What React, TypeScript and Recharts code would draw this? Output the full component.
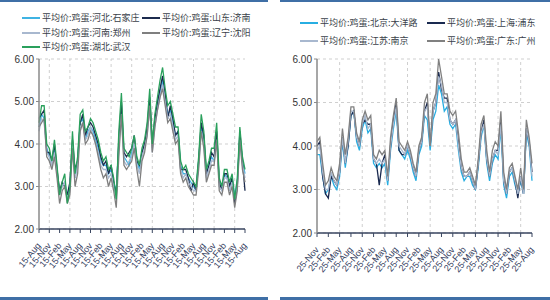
import React from 'react';
import { LineChart, Line, XAxis, YAxis, CartesianGrid, ReferenceLine } from 'recharts';

// x labels, one every 4 points
const LEFT_LABELS = [
  '15-Aug', '15-Nov', '15-Feb', '15-May', '15-Aug', '15-Nov', '15-Feb', '15-May',
  '15-Aug', '15-Nov', '15-Feb', '15-May', '15-Aug', '15-Nov', '15-Feb', '15-May',
  '15-Aug', '15-Nov', '15-Feb', '15-May', '15-Aug',
];
const RIGHT_LABELS = [
  '25-Nov', '25-Feb', '25-May', '25-Aug', '25-Nov', '25-Feb', '25-May', '25-Aug',
  '25-Nov', '25-Feb', '25-May', '25-Aug', '25-Nov', '25-Feb', '25-May', '25-Aug',
  '25-Nov', '25-Feb', '25-May', '25-Aug',
];
const Y_TICKS = [2, 3, 4, 5, 6];

// left panel
const SJZ = [
  4.4, 4.7, 4.6, 3.9, 3.7, 3.5, 3.9, 3.3, 2.9, 3.0,
  3.1, 2.8, 3.0, 4.0, 3.2, 3.6, 4.5, 4.6, 4.1, 4.3,
  4.4, 4.3, 4.1, 3.9, 3.6, 3.5, 3.5, 3.3, 3.4, 3.1,
  2.9, 4.0, 4.8, 3.7, 3.6, 3.5, 3.8, 4.0, 3.6, 3.4,
  3.8, 4.0, 4.3, 5.0, 3.9, 4.5, 4.9, 5.2, 5.5, 5.1,
  4.7, 4.8, 4.5, 4.2, 4.3, 3.5, 3.3, 3.3, 3.2, 3.1,
  3.0, 2.9, 3.6, 4.4, 4.1, 3.3, 3.5, 3.7, 3.6, 4.2,
  3.1, 2.9, 3.3, 3.2, 3.0, 3.2, 2.8, 3.1, 4.2, 3.6, 3.3,
];
const JN = [
  4.6, 4.7, 4.8, 3.8, 3.8, 3.6, 4.0, 3.4, 2.9, 3.1,
  3.0, 2.8, 3.1, 4.1, 3.4, 3.6, 4.5, 4.7, 4.2, 4.4,
  4.5, 4.4, 4.2, 4.0, 3.7, 3.5, 3.6, 3.3, 3.5, 3.1,
  2.8, 4.1, 5.0, 3.8, 3.7, 3.8, 3.9, 4.2, 3.6, 3.5,
  3.8, 4.0, 4.4, 5.1, 4.0, 4.6, 5.0, 5.3, 5.6, 5.2,
  4.6, 4.9, 4.6, 4.2, 4.3, 3.4, 3.4, 3.4, 3.2, 2.9,
  3.1, 2.9, 3.6, 4.5, 4.2, 3.3, 3.5, 3.8, 3.7, 4.3,
  3.1, 2.9, 3.3, 3.3, 3.0, 3.2, 2.6, 3.0, 4.3, 3.6, 2.9,
];
const ZZ = [
  4.3, 4.6, 4.5, 3.8, 3.7, 3.5, 3.8, 3.3, 2.8, 3.0,
  3.1, 2.7, 2.9, 4.0, 3.2, 3.5, 4.4, 4.5, 4.1, 4.2,
  4.4, 4.2, 4.0, 3.8, 3.5, 3.4, 3.4, 3.2, 3.3, 3.0,
  2.7, 3.9, 4.7, 3.6, 3.5, 3.6, 3.7, 4.0, 3.5, 3.3,
  3.7, 3.9, 4.2, 4.9, 3.8, 4.4, 4.8, 5.1, 5.4, 5.0,
  4.6, 4.7, 4.4, 4.1, 4.2, 3.4, 3.2, 3.3, 3.1, 3.0,
  2.9, 2.9, 3.5, 4.3, 4.0, 3.2, 3.4, 3.6, 3.6, 4.1,
  3.0, 2.9, 3.2, 3.2, 2.9, 3.1, 2.7, 3.0, 4.1, 3.5, 3.2,
];
const SY = [
  4.4, 4.5, 4.6, 3.7, 3.6, 3.4, 3.7, 3.2, 2.6, 2.9,
  3.0, 2.6, 2.8, 3.9, 3.0, 3.3, 4.3, 4.5, 4.0, 4.1,
  4.3, 4.2, 4.0, 3.7, 3.4, 3.2, 3.3, 3.0, 3.2, 2.9,
  2.5, 3.7, 4.7, 3.5, 3.4, 3.5, 3.6, 3.9, 3.4, 3.0,
  3.6, 3.8, 4.2, 4.9, 3.8, 4.4, 4.8, 5.1, 5.3, 4.9,
  4.5, 4.6, 4.3, 4.0, 4.1, 3.3, 3.1, 3.2, 3.0, 2.9,
  2.8, 2.8, 3.4, 4.3, 3.9, 3.1, 3.3, 3.5, 3.5, 4.1,
  2.9, 2.8, 3.1, 3.1, 2.8, 3.0, 2.5, 2.9, 4.1, 3.4, 3.1,
];
const WH = [
  4.5, 4.9, 4.9, 4.0, 3.9, 3.6, 4.1, 3.5, 2.8, 3.1,
  3.3, 2.6, 3.0, 4.3, 3.3, 3.7, 4.7, 4.8, 4.3, 4.4,
  4.6, 4.5, 4.3, 4.1, 3.8, 3.6, 3.7, 3.4, 3.5, 3.2,
  2.7, 4.3, 5.2, 3.9, 3.8, 3.7, 3.9, 4.2, 3.7, 3.5,
  3.9, 4.1, 4.5, 5.3, 4.0, 4.7, 5.1, 5.5, 5.8, 5.3,
  4.9, 5.0, 4.7, 4.4, 4.4, 3.6, 3.4, 3.5, 3.3, 3.2,
  3.1, 3.0, 3.7, 4.7, 4.3, 3.4, 3.6, 3.9, 3.9, 4.5,
  3.2, 3.0, 3.4, 3.4, 3.1, 3.3, 2.7, 3.2, 4.4, 3.7, 3.4,
];

// right panel
const DYL = [
  3.8, 3.8, 3.3, 2.9, 3.0, 3.3, 3.1, 3.0, 3.3, 4.1,
  3.5, 4.0, 4.7, 4.8, 4.1, 3.9, 4.4, 4.6, 4.3, 4.4,
  3.6, 3.5, 3.6, 3.5, 3.6, 3.1, 3.9, 4.4, 4.8, 3.9,
  3.8, 3.7, 3.9, 3.7, 3.4, 3.2, 3.8, 4.0, 4.7, 4.6,
  3.9, 4.6, 4.8, 5.4, 5.2, 4.8, 4.9, 4.5, 4.4, 4.5,
  3.9, 3.4, 3.2, 3.3, 3.3, 3.1, 3.0, 3.5, 4.2, 4.5,
  3.6, 3.2, 3.6, 3.8, 3.7, 4.4, 3.1, 2.8, 3.3, 3.4,
  3.1, 2.9, 3.2, 2.9, 4.3, 4.0, 3.2,
];
const PD = [
  4.0, 4.1, 3.3, 2.9, 2.8, 3.3, 3.2, 3.1, 3.4, 4.2,
  3.6, 4.0, 4.7, 4.8, 4.2, 4.0, 4.5, 4.6, 4.5, 4.5,
  3.7, 3.6, 3.1, 3.6, 3.8, 3.2, 4.0, 4.6, 5.0, 3.9,
  3.8, 3.8, 4.0, 3.8, 3.5, 3.3, 3.9, 4.1, 4.8, 5.0,
  4.0, 4.8, 5.0, 5.7, 5.3, 5.1, 5.1, 4.6, 4.5, 4.6,
  4.1, 3.5, 3.3, 3.3, 3.4, 3.2, 3.0, 3.6, 4.3, 4.6,
  3.7, 3.3, 3.7, 3.9, 3.9, 4.6, 3.2, 2.9, 3.4, 3.5,
  3.2, 2.8, 3.3, 2.9, 4.4, 4.1, 3.4,
];
const NJ = [
  3.9, 4.0, 3.4, 3.0, 3.0, 3.4, 3.2, 3.1, 3.4, 4.2,
  3.6, 4.1, 4.8, 4.8, 4.2, 4.0, 4.5, 4.7, 4.4, 4.5,
  3.7, 3.6, 3.7, 3.6, 3.7, 3.2, 4.0, 4.5, 4.9, 4.0,
  3.9, 3.8, 4.0, 3.8, 3.5, 3.3, 3.9, 4.1, 4.8, 4.9,
  4.0, 4.8, 5.0, 5.6, 5.4, 5.0, 5.0, 4.6, 4.5, 4.6,
  4.0, 3.5, 3.3, 3.3, 3.4, 3.2, 3.0, 3.6, 4.3, 4.5,
  3.7, 3.3, 3.7, 3.9, 3.8, 4.5, 3.2, 2.9, 3.4, 3.5,
  3.2, 2.9, 3.3, 2.9, 4.4, 4.1, 3.3,
];
const GZ = [
  4.1, 4.2, 3.6, 3.1, 3.2, 3.5, 3.3, 3.2, 3.6, 4.4,
  3.8, 4.2, 4.9, 4.9, 4.3, 4.1, 4.6, 4.8, 4.6, 4.7,
  3.8, 3.7, 3.9, 3.8, 3.9, 3.3, 4.2, 4.7, 5.1, 4.1,
  4.0, 3.9, 4.1, 3.9, 3.6, 3.4, 4.0, 4.2, 5.0, 5.2,
  4.0, 5.0, 5.2, 6.0, 5.6, 5.2, 5.2, 4.8, 4.7, 4.8,
  4.3, 3.7, 3.4, 3.4, 3.5, 3.3, 3.1, 3.7, 4.5, 4.7,
  3.9, 3.4, 3.9, 4.1, 4.0, 4.8, 3.4, 3.0, 3.5, 3.6,
  3.3, 3.0, 3.5, 3.0, 4.6, 4.2, 3.6,
];

const LEFT_SERIES = [
  { key: 'sjz', name: '平均价:鸡蛋:河北:石家庄', color: '#3fb3e3', values: SJZ },
  { key: 'jn', name: '平均价:鸡蛋:山东:济南', color: '#1c2b4e', values: JN },
  { key: 'zz', name: '平均价:鸡蛋:河南:郑州', color: '#a8b8cf', values: ZZ },
  { key: 'sy', name: '平均价:鸡蛋:辽宁:沈阳', color: '#7f7f7f', values: SY },
  { key: 'wh', name: '平均价:鸡蛋:湖北:武汉', color: '#2aa05c', values: WH },
];
const RIGHT_SERIES = [
  { key: 'dyl', name: '平均价:鸡蛋:北京:大洋路', color: '#27aee2', values: DYL },
  { key: 'pd', name: '平均价:鸡蛋:上海:浦东', color: '#1a2a50', values: PD },
  { key: 'nj', name: '平均价:鸡蛋:江苏:南京', color: '#a8b8cf', values: NJ },
  { key: 'gz', name: '平均价:鸡蛋:广东:广州', color: '#808080', values: GZ },
];

const STEP = 4;
const CJK = '"Noto Sans CJK SC", "Noto Sans", sans-serif';
const BAR = '#3f6fa6';

const buildRows = (series) =>
  series[0].values.map((_, i) => {
    const row = { idx: i };
    series.forEach((s) => { row[s.key] = s.values[i]; });
    return row;
  });

const DateTick = ({ x, y, payload, labels }) => {
  const label = labels[Math.round(payload.value / STEP)];
  return (
    <g transform={`translate(${x},${y + 9}) rotate(-50)`}>
      <text x={0} y={0} dy={3} textAnchor="end" fontSize={9} fill="#34405e"
        fontFamily="Arial, Liberation Sans, sans-serif">{label}</text>
    </g>
  );
};

function Legend({ series, left, top, rowGap, colX }) {
  return (
    <>
      {series.map((s, i) => {
        const col = i % 2;
        const row = Math.floor(i / 2);
        return (
          <div key={s.key} style={{
            position: 'absolute', left: left + colX[col], top: top + row * rowGap,
            display: 'flex', alignItems: 'center', height: 12, whiteSpace: 'nowrap',
          }}>
            <div style={{ width: 18, height: 2, background: s.color, marginRight: 2 }} />
            <span style={{ fontSize: 9, fontFamily: CJK, color: '#3a3f4a', lineHeight: '12px' }}>{s.name}</span>
          </div>
        );
      })}
    </>
  );
}

function PriceChart({ series, labels, width, height, margin, yWidth, gridCols }) {
  const rows = buildRows(series);
  const last = rows.length - 1;
  const ticks = labels.map((_, k) => k * STEP);
  return (
    <LineChart width={width} height={height} data={rows} margin={margin}>
      <CartesianGrid vertical={false} stroke="#cfcfcf" strokeDasharray="3 3" />
      {gridCols.map((k) => (
        <ReferenceLine key={k} x={k * STEP} stroke="#cfcfcf" strokeDasharray="3 3" />
      ))}
      <XAxis
        type="number" dataKey="idx" domain={[0, last]} ticks={ticks} interval={0}
        height={50} tick={<DateTick labels={labels} />}
        axisLine={{ stroke: '#3a4660', strokeWidth: 1.5 }}
        tickLine={{ stroke: '#3a4660' }} tickSize={4}
      />
      <YAxis
        type="number" domain={[2, 6]} ticks={Y_TICKS} width={yWidth}
        tickFormatter={(v) => v.toFixed(2)}
        tick={{ fontSize: 10, fill: '#333', fontFamily: 'Arial, Liberation Sans, sans-serif' }}
        axisLine={{ stroke: '#8a8a8a', strokeWidth: 1.5 }}
        tickLine={{ stroke: '#8a8a8a' }} tickSize={3}
      />
      {series.map((s) => (
        <Line key={s.key} type="linear" dataKey={s.key} name={s.name} stroke={s.color}
          strokeWidth={1.3} dot={false} isAnimationActive={false} />
      ))}
    </LineChart>
  );
}

export default function App() {
  return (
    <div style={{ position: 'absolute', left: 0, top: 0, width: 550, height: 300, background: '#fff', overflow: 'hidden' }}>
      <div style={{ position: 'absolute', left: 0, top: 0, width: 268, height: 2, background: BAR }} />
      <div style={{ position: 'absolute', left: 280, top: 0, width: 270, height: 2, background: BAR }} />
      <div style={{ position: 'absolute', left: 0, top: 297, width: 268, height: 3, background: BAR }} />
      <div style={{ position: 'absolute', left: 280, top: 297, width: 270, height: 3, background: BAR }} />

      <Legend series={LEFT_SERIES} left={22} top={12} rowGap={14.5} colX={[0, 120]} />
      <Legend series={RIGHT_SERIES} left={300} top={17} rowGap={18} colX={[0, 127]} />

      <div style={{ position: 'absolute', left: 0, top: 0 }}>
        <PriceChart series={LEFT_SERIES} labels={LEFT_LABELS} width={270} height={290}
          margin={{ top: 59, right: 25, bottom: 11, left: 0 }} yWidth={39}
          gridCols={[1, 3, 5, 7, 9, 11, 13, 15, 17, 19]} />
      </div>
      <div style={{ position: 'absolute', left: 275, top: 0 }}>
        <PriceChart series={RIGHT_SERIES} labels={RIGHT_LABELS} width={275} height={290}
          margin={{ top: 59, right: 18, bottom: 7, left: 0 }} yWidth={42}
          gridCols={[2, 4, 6, 8, 10, 12, 14, 16, 18]} />
      </div>
    </div>
  );
}
